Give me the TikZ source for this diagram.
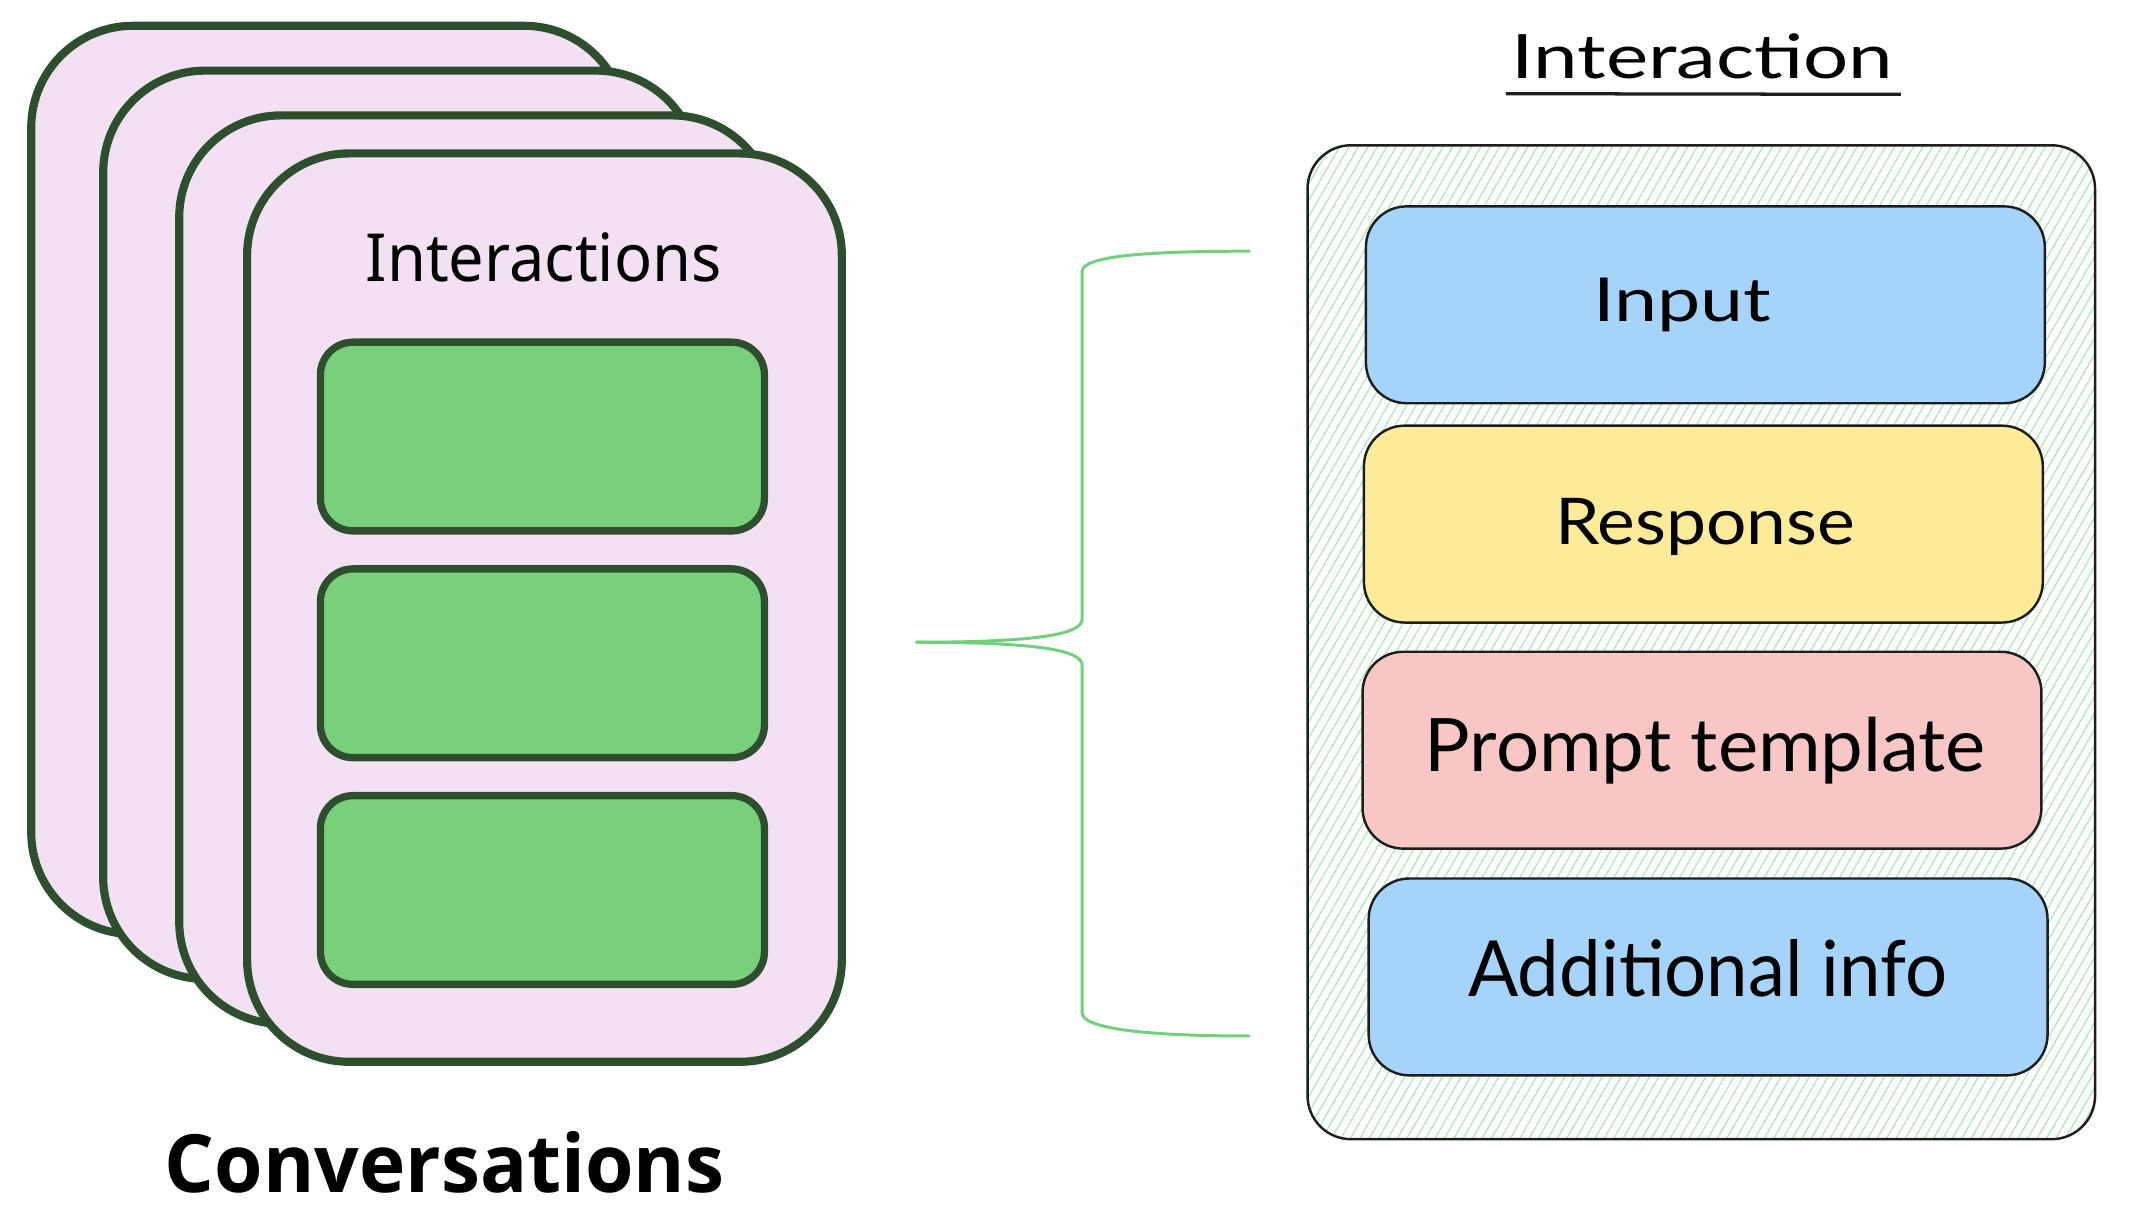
\documentclass[tikz,border=0pt]{standalone}
\usepackage{fontspec}
\setmainfont{Noto Sans}
\newfontfamily\convfont{Open Sans}
\newfontfamily\handfont{Lato}
\usetikzlibrary{patterns.meta}
\definecolor{cardfill}{HTML}{F3E1F3}
\definecolor{cardline}{HTML}{2E4F2E}
\definecolor{slotfill}{HTML}{79D07A}
\definecolor{bluefill}{HTML}{A5D3FA}
\definecolor{yellowfill}{HTML}{FCEB98}
\definecolor{pinkfill}{HTML}{F8C6C5}
\definecolor{hatch}{HTML}{A8EBB2}
\definecolor{inkline}{HTML}{1E1E1E}
\definecolor{bracegreen}{HTML}{72D07A}
\begin{document}
\begin{tikzpicture}[x=0.5pt,y=-0.5pt,
  card/.style={draw=cardline, line width=3pt, fill=cardfill, rounded corners=37.5pt,
    minimum width=219pt, minimum height=334.5pt, inner sep=0pt},
  slot/.style={draw=cardline, line width=2.7pt, fill=slotfill, rounded corners=12pt,
    minimum width=163.5pt, minimum height=69.5pt, inner sep=0pt},
  outerbox/.style={draw=inkline, line width=0.9pt, rounded corners=16pt,
    pattern={Lines[angle=60, distance=3pt, line width=0.45pt]}, pattern color=hatch,
    minimum width=290pt, minimum height=366pt, inner sep=0pt},
  part/.style={draw=inkline, line width=0.9pt, rounded corners=15pt,
    minimum width=250pt, minimum height=72.5pt, inner sep=0pt},
  txt/.style={anchor=base west, inner sep=0pt, text=black},
  bracestyle/.style={draw=bracegreen, line width=1.1pt, line cap=round, line join=round}
]
\useasboundingbox (0,0) rectangle (1568,893);

% stacked conversation cards
\node[card] (c1) at (242,353.5) {};
\node[card] (c2) at (295,386.5) {};
\node[card] (c3) at (351,419.5) {};
\node[card] (c4) at (401,447.5) {};

\node[txt] (lint) at (269,207) {\resizebox{131pt}{18pt}{Interactions}};

\node[slot] (s1) at (399.5,321.5) {};
\node[slot] (s2) at (399.5,488.5) {};
\node[slot] (s3) at (399.5,655.5) {};

\node[txt] (conv) at (121,878) {\resizebox{206pt}{22.5pt}{\convfont\bfseries Conversations}};

% brace
\coordinate (tip) at (675,473);
\coordinate (btop) at (920,185);
\coordinate (bbot) at (920,763);
\draw[bracestyle] (tip) .. controls (765,473) and (797,467) .. (797,456) -- (797,200)
   .. controls (797,189) and (840,185) .. (btop);
\draw[bracestyle] (tip) .. controls (765,473) and (797,479) .. (797,490) -- (797,746)
   .. controls (797,757) and (840,763) .. (bbot);

% interaction detail
\node[txt] (title) at (1113,58) {\handfont\resizebox{140.5pt}{16.5pt}{Interaction}};
\coordinate (ul1) at (1109,69);
\coordinate (ul2) at (1400,69.5);
\draw[inkline, line width=1.2pt] (ul1) -- (ul2);

\node[outerbox] (box) at (1253,473) {};
\node[part, fill=bluefill] (inp) at (1256,224.5) {};
\node[part, fill=yellowfill] (resp) at (1254.5,386) {};
\node[part, fill=pinkfill] (prompt) at (1253.5,552.5) {};
\node[part, fill=bluefill] (addl) at (1258,719.5) {};

\node[txt] (tinp) at (1173,236.5) {\handfont\resizebox{65.5pt}{16pt}{Input}};
\node[txt] (tresp) at (1145,401) {\handfont\resizebox{110.5pt}{17pt}{Response}};
\node[txt] (tprompt) at (1049,568) {\handfont\resizebox{206.5pt}{20pt}{Prompt template}};
\node[txt] (taddl) at (1081,734) {\handfont\resizebox{176.5pt}{21pt}{Additional info}};
\end{tikzpicture}
\end{document}
